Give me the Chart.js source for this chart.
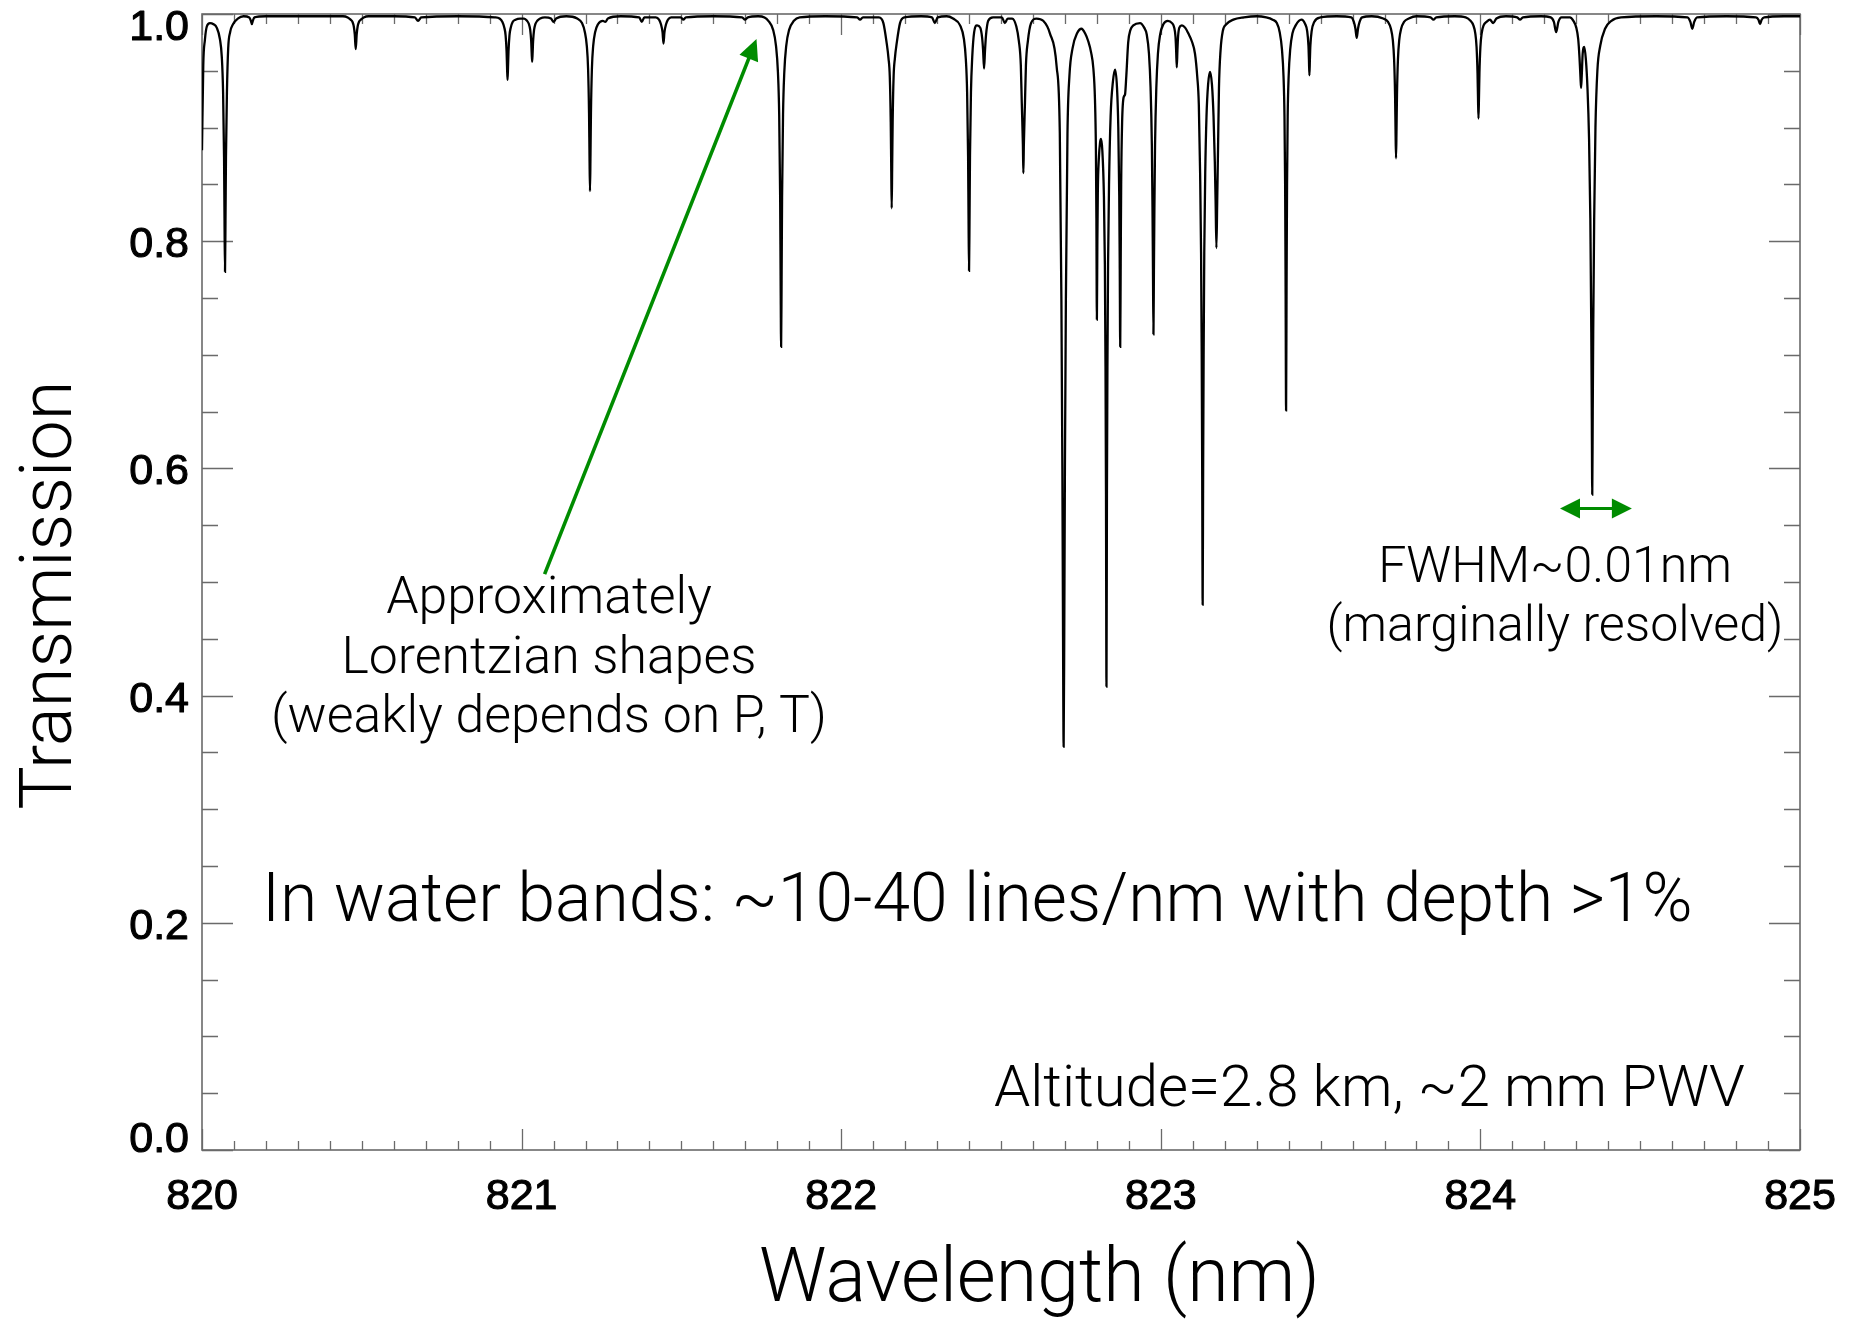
<!DOCTYPE html>
<html>
<head>
<meta charset="utf-8">
<script src="https://cdn.jsdelivr.net/npm/chart.js@4.4.1/dist/chart.umd.min.js"></script>
<style>
html,body{margin:0;padding:0;background:#fff;overflow:hidden}
#wrap{width:1853px;height:1321px;position:relative}
</style>
</head>
<body>
<div id="wrap"><canvas id="c" width="1853" height="1321"></canvas></div>
<script>
// ---- DATA: [wavelength (nm), transmission] ----
const seg820 = [
  [820.000,0.880],[820.004,0.955],[820.009,0.977],[820.015,0.989],[820.025,0.992],[820.036,0.991],
  [820.046,0.988],[820.056,0.978],[820.062,0.962],[820.066,0.931],[820.069,0.874],[820.0705,0.818],
  [820.072,0.773],[820.0735,0.818],[820.075,0.874],[820.078,0.931],[820.082,0.970],[820.088,0.984],
  [820.097,0.991],[820.112,0.996],[820.130,0.998],
  [820.148,0.997],[820.153,0.994],[820.156,0.991],[820.159,0.994],[820.164,0.997],[820.200,0.998],[820.300,0.998],
  [820.441,0.998],[820.456,0.997],[820.465,0.995],[820.471,0.993],[820.475,0.989],[820.478,0.982],
  [820.481,0.969],[820.484,0.982],[820.487,0.989],[820.491,0.993],[820.497,0.995],[820.506,0.997],
  [820.521,0.998],[820.600,0.998],[820.666,0.997],[820.676,0.994],[820.686,0.997],[820.800,0.998],
  [820.916,0.997],[820.931,0.996],[820.940,0.993],[820.946,0.988],[820.950,0.981],[820.953,0.967],
  [820.9545,0.953],[820.956,0.942],[820.9575,0.953],[820.959,0.967],[820.962,0.981],[820.966,0.988],
  [820.972,0.993],[820.981,0.995],[820.995,0.996]
];
const seg821 = [
  [821.008,0.996],[821.017,0.994],[821.023,0.991],[821.027,0.986],[821.030,0.976],[821.0315,0.966],
  [821.033,0.958],[821.0345,0.966],[821.036,0.976],[821.039,0.986],[821.043,0.991],[821.049,0.994],
  [821.058,0.996],[821.073,0.997],[821.092,0.996],[821.100,0.993],[821.108,0.996],[821.140,0.998],
  [821.174,0.996],[821.189,0.992],[821.198,0.984],[821.204,0.972],[821.208,0.952],[821.211,0.913],
  [821.2125,0.875],[821.214,0.844],[821.2155,0.875],[821.217,0.913],[821.220,0.952],[821.224,0.972],
  [821.230,0.984],[821.239,0.991],[821.254,0.994],[821.262,0.993],[821.270,0.996],[821.310,0.998],
  [821.368,0.997],[821.376,0.993],[821.384,0.997],
  [821.420,0.997],[821.430,0.995],[821.436,0.991],[821.441,0.984],[821.444,0.974],[821.447,0.984],
  [821.452,0.991],[821.458,0.995],[821.468,0.997],[821.498,0.997],[821.506,0.995],[821.514,0.997],
  [821.600,0.998],[821.690,0.997],[821.699,0.995],[821.708,0.997],
  [821.740,0.998],[821.760,0.997],[821.772,0.994],[821.787,0.986],[821.796,0.972],[821.802,0.949],
  [821.806,0.911],[821.809,0.838],[821.8105,0.765],[821.812,0.707],[821.8135,0.765],[821.815,0.838],
  [821.818,0.911],[821.822,0.949],[821.828,0.972],[821.837,0.986],[821.852,0.994],[821.870,0.997],
  [821.950,0.998]
];
const seg822a = [
  [822.050,0.997],[822.059,0.995],[822.068,0.997],
  [822.118,0.997],[822.132,0.992],[822.142,0.975],[822.148,0.961],[822.152,0.945],[822.155,0.905],
  [822.1565,0.866],[822.158,0.829],[822.1595,0.866],[822.161,0.905],[822.164,0.945],[822.168,0.961],
  [822.174,0.975],[822.184,0.992],[822.198,0.997],[822.250,0.998],
  [822.284,0.997],[822.293,0.992],[822.302,0.997],
  [822.330,0.998],[822.350,0.996],[822.372,0.990],[822.384,0.978],[822.390,0.960],[822.394,0.931],
  [822.397,0.875],[822.3985,0.819],[822.400,0.774],[822.4015,0.819],[822.403,0.875],[822.406,0.931],
  [822.410,0.962],[822.416,0.984],[822.425,0.990],[822.435,0.988],[822.441,0.979],[822.444,0.968],
  [822.447,0.952],[822.450,0.968],[822.453,0.981],[822.460,0.994],[822.475,0.997],
  [822.503,0.997],[822.512,0.992],[822.521,0.996],
  [822.535,0.996],[822.548,0.989],[822.556,0.976],[822.562,0.955],[822.565,0.922],[822.5685,0.885],
  [822.570,0.860],[822.5715,0.885],[822.575,0.922],[822.578,0.955],[822.584,0.976],[822.594,0.992],
  [822.611,0.996]
];
const seg822b = [
  [822.632,0.994],[822.653,0.983],[822.674,0.954],[822.684,0.895],[822.689,0.748],[822.692,0.600],
  [822.694,0.460],[822.696,0.355],[822.698,0.460],[822.700,0.600],[822.703,0.748],[822.708,0.895],
  [822.714,0.945],[822.724,0.970],[822.738,0.983],[822.752,0.987],[822.763,0.983],[822.773,0.976],
  [822.782,0.966],[822.789,0.952],[822.794,0.925],[822.797,0.880],[822.7985,0.820],[822.800,0.731],
  [822.8015,0.800],[822.803,0.845],[822.806,0.872],[822.810,0.887],[822.813,0.890],[822.817,0.880],
  [822.822,0.840],[822.825,0.780],[822.827,0.690],[822.8285,0.580],[822.830,0.408],[822.8315,0.580],
  [822.833,0.690],[822.835,0.780],[822.838,0.850],[822.843,0.910],[822.850,0.940],[822.857,0.951],
  [822.863,0.935],[822.867,0.900],[822.870,0.840],[822.8715,0.780],[822.873,0.707],[822.8745,0.780],
  [822.876,0.850],[822.879,0.905],[822.884,0.927],[822.888,0.929],[822.892,0.945],[822.898,0.975],
  [822.905,0.986],[822.914,0.990],[822.935,0.992],[822.948,0.988],[822.956,0.982],[822.963,0.965],
  [822.968,0.935],[822.972,0.885],[822.974,0.830],[822.9755,0.775],[822.977,0.718],[822.9785,0.775],
  [822.980,0.830],[822.982,0.885],[822.986,0.935],[822.991,0.965],[822.998,0.982]
];
const seg823 = [
  [823.008,0.991],[823.022,0.994],[823.035,0.992],[823.042,0.988],[823.046,0.980],[823.048,0.968],
  [823.050,0.953],[823.052,0.968],[823.054,0.980],[823.058,0.988],[823.066,0.990],[823.076,0.988],
  [823.086,0.983],[823.097,0.976],[823.107,0.965],[823.114,0.945],[823.119,0.920],[823.123,0.860],
  [823.126,0.790],[823.128,0.700],[823.1295,0.600],[823.131,0.480],[823.1325,0.600],[823.134,0.700],
  [823.136,0.790],[823.139,0.860],[823.143,0.910],[823.148,0.938],[823.154,0.949],[823.160,0.938],
  [823.165,0.910],[823.169,0.870],[823.1715,0.835],[823.174,0.794],[823.1765,0.835],[823.179,0.880],
  [823.182,0.935],[823.187,0.968],[823.194,0.985],[823.205,0.991],[823.227,0.995],[823.260,0.997],
  [823.300,0.998],
  [823.330,0.997],[823.350,0.995],[823.363,0.992],[823.372,0.984],[823.379,0.969],[823.384,0.945],
  [823.387,0.910],[823.389,0.850],[823.3905,0.760],[823.392,0.651],[823.3935,0.760],[823.395,0.850],
  [823.397,0.910],[823.400,0.945],[823.405,0.969],[823.412,0.983],[823.422,0.990],[823.440,0.995],
  [823.452,0.991],[823.458,0.985],[823.462,0.972],[823.4635,0.960],[823.465,0.946],[823.4665,0.960],
  [823.468,0.972],[823.472,0.985],[823.480,0.993],[823.500,0.997],[823.550,0.998],
  [823.596,0.997],[823.604,0.993],[823.609,0.987],[823.613,0.979],[823.617,0.987],[823.622,0.993],
  [823.630,0.997],[823.660,0.998],
  [823.696,0.996],[823.711,0.993],[823.720,0.987],[823.726,0.977],[823.730,0.960],[823.733,0.929],
  [823.7345,0.898],[823.736,0.873],[823.7375,0.898],[823.739,0.929],[823.742,0.960],[823.746,0.977],
  [823.752,0.987],[823.761,0.993],[823.776,0.996],[823.800,0.998],
  [823.844,0.997],[823.853,0.995],[823.862,0.997],[823.920,0.998],
  [823.954,0.997],[823.969,0.994],[823.978,0.990],[823.984,0.983],[823.988,0.971],[823.991,0.948],
  [823.9925,0.926],[823.994,0.908],[823.9955,0.926],[823.997,0.948]
];
const seg824 = [
  [824.000,0.971],[824.004,0.983],[824.010,0.990],[824.019,0.993],[824.030,0.995],[824.040,0.992],
  [824.050,0.996],[824.080,0.998],[824.115,0.997],[824.124,0.995],[824.133,0.997],[824.190,0.998],
  [824.220,0.997],[824.230,0.993],[824.237,0.984],[824.244,0.993],[824.254,0.997],
  [824.280,0.997],[824.291,0.994],[824.300,0.988],[824.306,0.978],[824.310,0.962],[824.313,0.945],
  [824.315,0.935],[824.317,0.945],[824.320,0.965],[824.325,0.971],[824.330,0.960],[824.335,0.935],
  [824.340,0.890],[824.344,0.820],[824.347,0.720],[824.3485,0.650],[824.350,0.577],[824.3515,0.650],
  [824.353,0.720],[824.356,0.820],[824.360,0.900],[824.366,0.950],[824.375,0.972],[824.390,0.987],
  [824.410,0.994],[824.440,0.997],[824.550,0.998],
  [824.648,0.997],[824.657,0.993],[824.663,0.987],[824.669,0.993],[824.678,0.997],[824.770,0.998],
  [824.862,0.997],[824.870,0.995],[824.875,0.991],[824.880,0.995],[824.888,0.997],[824.950,0.998],
  [825.000,0.998]
];
const xMajorTicks = [820, 821, 822, 823, 824, 825];
const yMajorTicks = [0.0, 0.2, 0.4, 0.6, 0.8, 1.0];
const xTitle = 'Wavelength (nm)';
const yTitle = 'Transmission';
const noteLorentz = ['Approximately', 'Lorentzian shapes', '(weakly depends on P, T)'];
const noteFwhm = ['FWHM~0.01nm', '(marginally resolved)'];
const noteWater = 'In water bands: ~10-40 lines/nm with depth >1%';
const noteSite = 'Altitude=2.8 km, ~2 mm PWV';

// ---- build chart ----
const spectrum = [].concat(seg820, seg821, seg822a, seg822b, seg823, seg824)
  .map(p => ({x: p[0], y: p[1]}));

const TICK_FONT = '43px "Liberation Sans", Arial, Helvetica, sans-serif';
const THIN_FAMILY = '"Roboto", "Inter", "Liberation Sans", sans-serif';
const THIN_WEIGHT = 300;
const GREEN = 'rgb(0,140,0)';
const FRAME = '#6a6a6a';

function fitSize(ctx, text, targetW) {
  ctx.font = `${THIN_WEIGHT} 100px ${THIN_FAMILY}`;
  return 100 * targetW / ctx.measureText(text).width;
}
function arrowHead(ctx, tx, ty, ang, len, half) {
  ctx.beginPath();
  ctx.moveTo(tx, ty);
  ctx.lineTo(tx - len*Math.cos(ang) + half*Math.sin(ang), ty - len*Math.sin(ang) - half*Math.cos(ang));
  ctx.lineTo(tx - len*Math.cos(ang) - half*Math.sin(ang), ty - len*Math.sin(ang) + half*Math.cos(ang));
  ctx.closePath();
  ctx.fill();
}
function boldText(ctx, s, x, y) {
  ctx.strokeText(s, x, y);
  ctx.fillText(s, x, y);
}

const framePlugin = {
  id: 'frame',
  beforeDatasetsDraw(chart) {
    const {ctx, chartArea: a, scales: {x, y}} = chart;
    ctx.save();
    ctx.strokeStyle = FRAME;
    ctx.lineWidth = 1.3;
    ctx.beginPath();
    for (let i = 0; i <= 50; i++) {
      const px = Math.round(x.getPixelForValue(820 + i * 0.1)) + 0.5;
      const major = i % 10 === 0;
      ctx.moveTo(px, a.bottom); ctx.lineTo(px, a.bottom - (major ? 21 : 9));
      ctx.moveTo(px, a.top); ctx.lineTo(px, a.top + (major ? 21 : 10));
    }
    for (let i = 0; i <= 20; i++) {
      const py = Math.round(y.getPixelForValue(i * 0.05)) + 0.5;
      const major = i % 4 === 0;
      const L = major ? 31 : 16;
      ctx.moveTo(a.left, py); ctx.lineTo(a.left + L, py);
      ctx.moveTo(a.right, py); ctx.lineTo(a.right - L, py);
    }
    ctx.stroke();
    ctx.lineWidth = 1.6;
    ctx.strokeRect(a.left, a.top, a.right - a.left, a.bottom - a.top);
    ctx.restore();
  },
  afterDraw(chart) {
    const {ctx, scales: {x, y}} = chart;
    ctx.save();
    // tick labels
    ctx.fillStyle = '#000';
    ctx.strokeStyle = '#000';
    ctx.lineWidth = 1.1;
    ctx.lineJoin = 'round';
    ctx.font = TICK_FONT;
    ctx.textBaseline = 'alphabetic';
    ctx.textAlign = 'center';
    xMajorTicks.forEach(v => boldText(ctx, String(v), x.getPixelForValue(v), 1208.5));
    ctx.textAlign = 'right';
    yMajorTicks.forEach(v => {
      let by = y.getPixelForValue(v) + 16;
      if (v === 1) by = 40;
      if (v === 0) by = 1152;
      boldText(ctx, v.toFixed(1), 189, by);
    });
    // axis titles
    ctx.textAlign = 'center';
    let fs = fitSize(ctx, xTitle, 561);
    ctx.font = `${THIN_WEIGHT} ${fs}px ${THIN_FAMILY}`;
    ctx.fillText(xTitle, 1039.5, 1301);
    fs = fitSize(ctx, yTitle, 429);
    ctx.save();
    ctx.translate(71, 595);
    ctx.rotate(-Math.PI / 2);
    ctx.font = `${THIN_WEIGHT} ${fs}px ${THIN_FAMILY}`;
    ctx.fillText(yTitle, 0, 0);
    ctx.restore();
    // annotations
    fs = fitSize(ctx, noteLorentz[2], 556);
    ctx.font = `${THIN_WEIGHT} ${fs}px ${THIN_FAMILY}`;
    [613, 673, 732].forEach((by, i) => ctx.fillText(noteLorentz[i], 549, by));
    fs = fitSize(ctx, noteFwhm[1], 457);
    ctx.font = `${THIN_WEIGHT} ${fs}px ${THIN_FAMILY}`;
    [582, 641].forEach((by, i) => ctx.fillText(noteFwhm[i], 1555, by));
    fs = fitSize(ctx, noteWater, 1431);
    ctx.font = `${THIN_WEIGHT} ${fs}px ${THIN_FAMILY}`;
    ctx.textAlign = 'left';
    ctx.fillText(noteWater, 262, 921);
    fs = fitSize(ctx, noteSite, 751);
    ctx.font = `${THIN_WEIGHT} ${fs}px ${THIN_FAMILY}`;
    ctx.fillText(noteSite, 994, 1106);

    // green arrow pointing at the line wing (data coordinates through the scales)
    ctx.strokeStyle = GREEN; ctx.fillStyle = GREEN;
    const tx = x.getPixelForValue(821.735), ty = y.getPixelForValue(0.978);
    const sx = x.getPixelForValue(821.072), sy = y.getPixelForValue(0.507);
    const ang = Math.atan2(ty - sy, tx - sx);
    ctx.lineWidth = 3.6;
    ctx.lineCap = 'butt';
    ctx.beginPath();
    ctx.moveTo(sx, sy);
    ctx.lineTo(tx - 16 * Math.cos(ang), ty - 16 * Math.sin(ang));
    ctx.stroke();
    arrowHead(ctx, tx, ty, ang, 21, 10);
    // FWHM double arrow
    const ay = y.getPixelForValue(0.5647);
    const ax1 = x.getPixelForValue(824.249), ax2 = x.getPixelForValue(824.474);
    ctx.lineWidth = 3.2;
    ctx.beginPath();
    ctx.moveTo(ax1 + 15, ay); ctx.lineTo(ax2 - 15, ay);
    ctx.stroke();
    arrowHead(ctx, ax2, ay, 0, 20, 10);
    arrowHead(ctx, ax1, ay, Math.PI, 20, 10);
    ctx.restore();
  }
};

new Chart(document.getElementById('c').getContext('2d'), {
  type: 'line',
  data: {
    datasets: [{
      data: spectrum,
      borderColor: '#000',
      borderWidth: 2.3,
      pointRadius: 0,
      fill: false,
      cubicInterpolationMode: 'monotone'
    }]
  },
  options: {
    responsive: false,
    animation: false,
    devicePixelRatio: 1,
    parsing: false,
    events: [],
    layout: {padding: {left: 202, top: 14, right: 53, bottom: 171}},
    plugins: {legend: {display: false}, tooltip: {enabled: false}},
    scales: {
      x: {type: 'linear', min: 820, max: 825, display: false},
      y: {type: 'linear', min: 0, max: 1, display: false}
    }
  },
  plugins: [framePlugin]
});
</script>
</body>
</html>
